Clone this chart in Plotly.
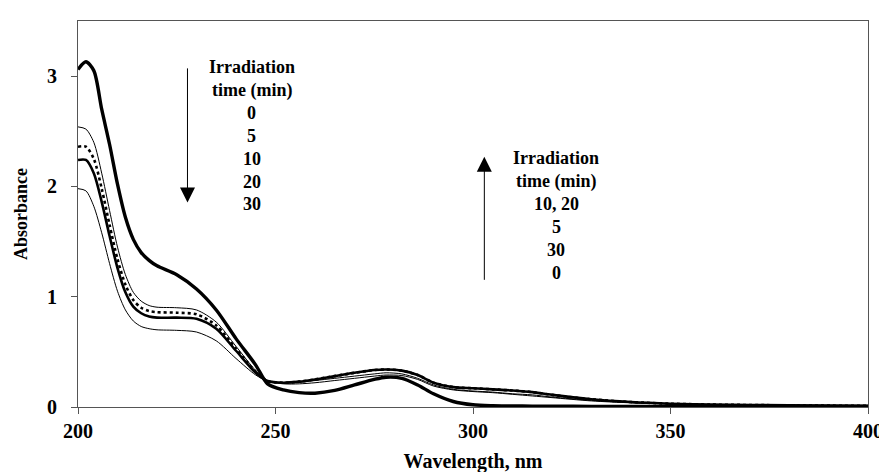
import plotly.graph_objects as go

# Wavelength grid (nm)
wavelength = [200, 202, 204, 206, 208, 210, 212, 214, 216, 218, 220, 225, 230, 235, 240,
              245, 248, 252, 256, 260, 265, 270, 275, 278, 282, 286, 290, 295, 300,
              305, 310, 315, 320, 330, 340, 350, 360, 380, 400]

abs_0 = [3.06, 3.13, 3.05, 2.70, 2.38, 2.02, 1.72, 1.52, 1.40, 1.33, 1.28, 1.20, 1.07, 0.88, 0.62,
         0.38, 0.21, 0.155, 0.13, 0.125, 0.15, 0.20, 0.25, 0.27, 0.26, 0.20, 0.12, 0.05, 0.02,
         0.012, 0.01, 0.008, 0.007, 0.006, 0.006, 0.005, 0.005, 0.005, 0.005]
abs_5 = [2.54, 2.52, 2.40, 2.12, 1.78, 1.45, 1.20, 1.04, 0.96, 0.92, 0.905, 0.90, 0.88, 0.77, 0.55,
         0.33, 0.235, 0.22, 0.225, 0.24, 0.26, 0.28, 0.30, 0.31, 0.30, 0.26, 0.20, 0.16, 0.145,
         0.135, 0.12, 0.11, 0.09, 0.06, 0.04, 0.03, 0.022, 0.015, 0.01]
abs_10 = [2.36, 2.36, 2.25, 1.98, 1.65, 1.34, 1.11, 0.97, 0.90, 0.87, 0.86, 0.855, 0.84, 0.74, 0.53,
          0.32, 0.235, 0.22, 0.23, 0.25, 0.28, 0.31, 0.335, 0.34, 0.33, 0.29, 0.22, 0.18, 0.17,
          0.16, 0.15, 0.135, 0.11, 0.07, 0.045, 0.03, 0.022, 0.015, 0.01]
abs_20 = [2.24, 2.24, 2.12, 1.86, 1.55, 1.26, 1.04, 0.91, 0.85, 0.82, 0.81, 0.81, 0.80, 0.71, 0.51,
          0.31, 0.235, 0.22, 0.23, 0.25, 0.28, 0.31, 0.335, 0.34, 0.33, 0.29, 0.22, 0.18, 0.17,
          0.16, 0.15, 0.135, 0.11, 0.07, 0.045, 0.03, 0.022, 0.015, 0.01]
abs_30 = [1.98, 1.96, 1.82, 1.58, 1.30, 1.05, 0.88, 0.78, 0.73, 0.71, 0.70, 0.695, 0.68, 0.60, 0.44,
          0.29, 0.235, 0.21, 0.21, 0.22, 0.24, 0.26, 0.28, 0.29, 0.285, 0.25, 0.19, 0.155, 0.14,
          0.13, 0.115, 0.10, 0.085, 0.055, 0.038, 0.028, 0.02, 0.013, 0.008]

x_ticks = [200, 250, 300, 350, 400]
y_ticks = [0, 1, 2, 3]

legend1 = ["Irradiation", "time (min)", "0", "5", "10", "20", "30"]
legend2 = ["Irradiation", "time (min)", "10, 20", "5", "30", "0"]

FONT = "Liberation Serif"

series = [
    (abs_30, dict(width=1, color="black")),
    (abs_5, dict(width=1, color="black")),
    (abs_20, dict(width=2.6, color="black")),
    (abs_10, dict(width=2.6, color="black", dash="dot")),
    (abs_0, dict(width=3.4, color="black")),
]

fig = go.Figure()
for ys, ln in series:
    fig.add_trace(go.Scatter(x=wavelength, y=ys, mode="lines",
                             line=dict(shape="spline", smoothing=0.8, **ln),
                             showlegend=False, hoverinfo="skip"))

# pixel -> data helpers for annotation placement
def px_x(p):
    return 200 + (p - 68) / 801 * 200

def px_y(p):
    return (399 - p) / 387 * 3.5

def bold(size):
    return dict(family=FONT, size=size, color="black", weight="bold")

ann = []
ys1 = [58, 82, 104, 127, 150, 173, 195]
for t, yy in zip(legend1, ys1):
    ann.append(dict(x=px_x(244), y=px_y(yy), xref="x", yref="y", text=t, showarrow=False,
                    font=bold(18), xanchor="center", yanchor="middle"))
ys2 = [149, 173, 195, 219, 242, 265]
for t, yy in zip(legend2, ys2):
    ann.append(dict(x=px_x(553), y=px_y(yy), xref="x", yref="y", text=t, showarrow=False,
                    font=bold(18), xanchor="center", yanchor="middle"))

# arrows
ann.append(dict(x=px_x(179), y=px_y(194), ax=px_x(179), ay=px_y(58), xref="x", yref="y",
                axref="x", ayref="y", text="", showarrow=True, arrowhead=2, arrowsize=3,
                arrowwidth=1, arrowcolor="black"))
ann.append(dict(x=px_x(480), y=px_y(148), ax=px_x(480), ay=px_y(273), xref="x", yref="y",
                axref="x", ayref="y", text="", showarrow=True, arrowhead=2, arrowsize=3,
                arrowwidth=1, arrowcolor="black"))

fig.update_layout(
    width=887, height=472,
    margin=dict(l=68, r=18, t=12, b=73),
    plot_bgcolor="white", paper_bgcolor="white",
    font=dict(family=FONT, size=18, color="black"),
    annotations=ann,
    xaxis=dict(range=[200, 400], tickvals=x_ticks, ticks="outside", ticklen=6,
               tickcolor="#555", linecolor="#555", linewidth=1, mirror=True,
               showgrid=False, zeroline=False, ticklabelstandoff=0,
               tickfont=bold(20),
               title=dict(text="Wavelength, nm", standoff=12, font=bold(20))),
    yaxis=dict(range=[0, 3.5], tickvals=y_ticks, ticks="outside", ticklen=6,
               tickcolor="#555", linecolor="#555", linewidth=1, mirror=True,
               showgrid=False, zeroline=False, ticklabelstandoff=10,
               tickfont=bold(20),
               title=dict(text="Absorbance", standoff=14, font=bold(18))),
)

fig.write_html("out.html")
